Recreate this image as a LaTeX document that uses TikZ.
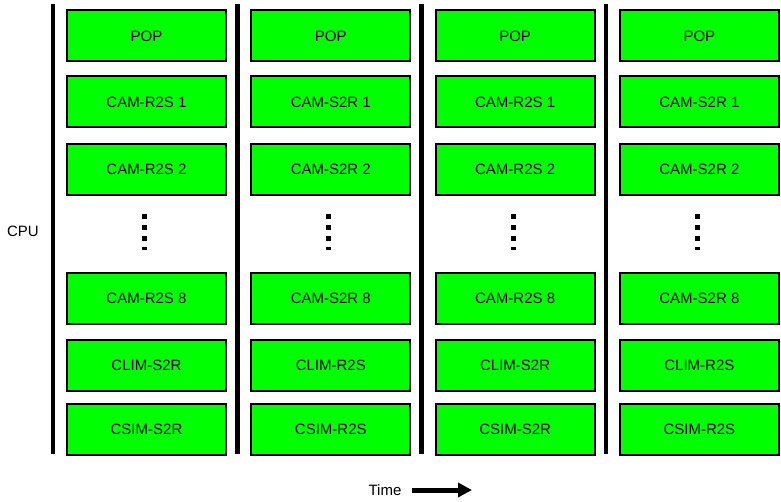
\documentclass[tikz,border=0pt]{standalone}
\usepackage{fontspec}
\setmainfont{Liberation Sans}
\usetikzlibrary{arrows.meta}
\begin{document}
\begin{tikzpicture}[x=1pt,y=-1pt,
  slot/.style={draw=black, line width=2pt, fill=green, minimum width=159pt,
    minimum height=51pt, inner sep=0pt, font=\fontsize{15}{18}\selectfont},
  lane/.style={line width=4.5pt},
  more/.style={line width=5pt, dash pattern=on 5.5pt off 5.5pt},
  lbl/.style={font=\fontsize{15}{18}\selectfont, inner sep=0pt}]
\useasboundingbox (0,0) rectangle (781,502);

% one column of tasks per time step
\foreach \c/\d/\e in {0/R2S/S2R,1/S2R/R2S,2/R2S/S2R,3/S2R/R2S} {
  \pgfmathsetmacro{\cx}{146.5+184.3*\c}
  \pgfmathsetmacro{\lx}{53+184.3*\c}
  \coordinate (top\c) at (\lx,4);
  \coordinate (bot\c) at (\lx,454);
  \draw[lane] (top\c) -- (bot\c);
  \node[slot] (pop\c)  at (\cx,36)    {POP};
  \node[slot] (camA\c) at (\cx,102)   {CAM-\d\ 1};
  \node[slot] (camB\c) at (\cx,169.7) {CAM-\d\ 2};
  \node[slot] (camH\c) at (\cx,298.3) {CAM-\d\ 8};
  \node[slot] (clim\c) at (\cx,365.7) {CLIM-\e};
  \node[slot] (csim\c) at (\cx,429.7) {CSIM-\e};
  \coordinate (dotA\c) at (\cx-2,214);
  \coordinate (dotB\c) at (\cx-2,250);
  \draw[more] (dotA\c) -- (dotB\c);
}

\node[lbl] (cpu) at (23,231.5) {CPU};
\node[lbl] (time) at (385,490) {Time};
\coordinate (later) at (472,490);
\draw[line width=5pt, shorten <=10.7pt, -{Triangle[length=14pt,width=14pt]}]
  (time.east) -- (later);
\end{tikzpicture}
\end{document}
